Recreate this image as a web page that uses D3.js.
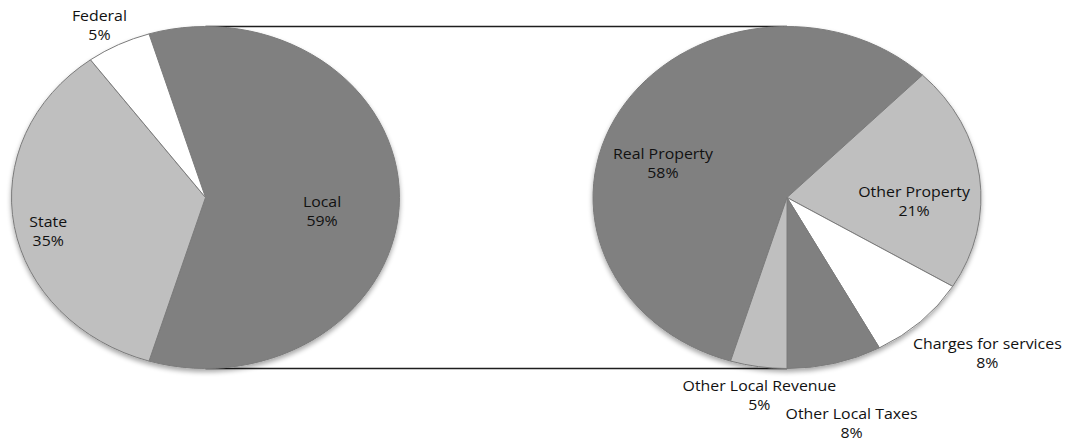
<!DOCTYPE html>
<html>
<head>
<meta charset="utf-8">
<script src="https://cdn.jsdelivr.net/npm/d3@7"></script>
<style>
  html, body { margin: 0; padding: 0; background: #fff; }
  svg text { font-family: "Open Sans", "Liberation Sans", sans-serif; font-size: 14px; fill: #111; }
</style>
</head>
<body>
<div id="chart"></div>
<script>
// Revenue split (left pie) and breakdown of local revenue (right pie)
var sourceNames = ['Local', 'State', 'Federal'];
var sourceValues = [59.4, 35.2, 5.4];

var localNames = ['Real Property', 'Other Property', 'Charges for services', 'Other Local Taxes', 'Other Local Revenue'];
var localValues = [57.6, 21.4, 8.4, 7.9, 4.7];

// layout
var width = 1070;
var height = 443;
var rx = 194;
var ry = 171;
var leftCx = 205.5;
var rightCx = 787;
var cy = 197.5;
var stretch = rx / ry; // the whole figure is drawn wider than tall

var sourceColors = ['#808080', '#bfbfbf', '#ffffff'];
var localColors = ['#808080', '#bfbfbf', '#ffffff', '#808080', '#bfbfbf'];

// label placement: radius as fraction of pie radius, angle nudge in degrees
var sourceLabelR = [0.605, 0.832, 1.152];
var sourceLabelNudge = [6.7, -3.3, -1.7];
var localLabelR = [0.672, 0.655, 1.371, 1.355, 1.158];
var localLabelNudge = [-12.7, 8.4, -5.3, 0, -1.4];

var fmt = d3.format('.0%');

var svg = d3.select('#chart').append('svg')
    .attr('width', width)
    .attr('height', height);

var defs = svg.append('defs');
var shadow = defs.append('filter').attr('id', 'shadow')
    .attr('x', '-10%').attr('y', '-10%').attr('width', '120%').attr('height', '125%');
shadow.append('feGaussianBlur').attr('in', 'SourceAlpha').attr('stdDeviation', 2.5);
shadow.append('feOffset').attr('dx', 0).attr('dy', 2.5).attr('result', 'blur');
shadow.append('feComponentTransfer').append('feFuncA').attr('type', 'linear').attr('slope', 0.35);
var merge = shadow.append('feMerge');
merge.append('feMergeNode');
merge.append('feMergeNode').attr('in', 'SourceGraphic');

// connector lines between the pies
svg.append('g').selectAll('line')
    .data([cy - ry, cy + ry])
    .enter()
    .append('line')
    .attr('x1', leftCx)
    .attr('x2', rightCx)
    .attr('y1', function (d) { return d; })
    .attr('y2', function (d) { return d; })
    .attr('stroke', '#1e1e1e')
    .attr('stroke-width', 1.4);

function drawPie(cx, names, values, colors, startAngle, labelR, labelNudge) {
    var total = d3.sum(values);
    var pie = d3.pie().sort(null)
        .startAngle(startAngle)
        .endAngle(startAngle + 2 * Math.PI);
    var arcs = pie(values);
    var arc = d3.arc().innerRadius(0).outerRadius(ry);

    var g = svg.append('g')
        .attr('transform', 'translate(' + cx + ',' + cy + ')');

    g.append('g')
        .attr('transform', 'scale(' + stretch + ',1)')
        .attr('filter', 'url(#shadow)')
        .selectAll('path')
        .data(arcs)
        .enter()
        .append('path')
        .attr('d', arc)
        .attr('fill', function (d, i) { return colors[i]; })
        .attr('stroke', '#7b7b7b')
        .attr('stroke-width', 1)
        .attr('vector-effect', 'non-scaling-stroke');

    var labels = g.selectAll('text.slice-label')
        .data(arcs)
        .enter()
        .append('text')
        .attr('class', 'slice-label')
        .attr('text-anchor', 'middle')
        .attr('transform', function (d, i) {
            var a = (d.startAngle + d.endAngle) / 2 + labelNudge[i] * Math.PI / 180;
            var x = labelR[i] * rx * Math.sin(a);
            var y = -labelR[i] * ry * Math.cos(a);
            return 'translate(' + x + ',' + y + ') scale(' + stretch + ',1)';
        });

    labels.append('tspan')
        .attr('x', 0)
        .attr('y', -3)
        .text(function (d, i) { return names[i]; });
    labels.append('tspan')
        .attr('x', 0)
        .attr('y', 16)
        .text(function (d) { return fmt(d.value / total); });
}

// split slice (Local) centred on the right side, facing the second pie
var sourceTotal = d3.sum(sourceValues);
drawPie(leftCx, sourceNames, sourceValues, sourceColors,
    Math.PI / 2 - (sourceValues[0] / sourceTotal) * Math.PI,
    sourceLabelR, sourceLabelNudge);

// second pie: last slice begins straight down
var localTotal = d3.sum(localValues);
drawPie(rightCx, localNames, localValues, localColors,
    Math.PI + (localValues[localValues.length - 1] / localTotal) * 2 * Math.PI,
    localLabelR, localLabelNudge);
</script>
</body>
</html>
